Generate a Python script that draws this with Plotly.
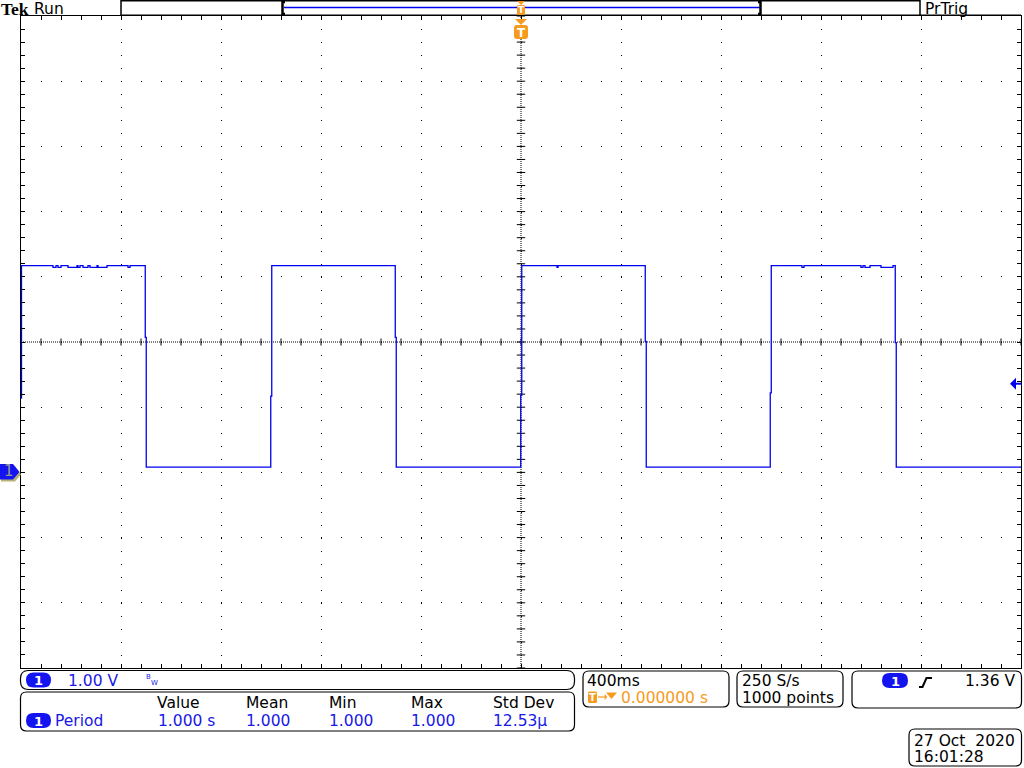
import numpy as np
import plotly.graph_objects as go

t_range = [-2.0, 2.0]            # 400 ms/div x 10 div, trigger at centre
v_range = [-3.0, 7.0]            # 1.00 V/div x 10 div
sample_period = 0.004            # 250 S/s
v_first = 1.13                   # first sample of the record
v_high = 3.17
v_low = 0.08
edge_times = [-1.503, -1.001, -0.503, -0.001, 0.497, 0.997, 1.497]
edge_mid_volts = [2.07, 1.17, 2.07, 1.18, 2.01, 1.22, 1.99]
edge_new_level = ["low", "high", "low", "high", "low", "high", "low"]
glitch_starts = [-1.872, -1.852, -1.812, -1.772, -1.752, -1.724, -1.692, -1.572,
                 0.144, 1.124, 1.360, 1.376, 1.440]
glitch_ends = [-1.860, -1.840, -1.776, -1.764, -1.732, -1.696, -1.656, -1.564,
               0.148, 1.132, 1.368, 1.396, 1.488]
glitch_depth = 0.025
trigger_level = 1.36
trigger_time = 0.0
ground_volts = 0.0

hdr_labels = ["Value", "Mean", "Min", "Max", "Std Dev"]
hdr_values = ["1.000 s", "1.000", "1.000", "1.000", "12.53\u00b5"]

# ---------------- build the trace from the readings ----------------
levels = {"high": v_high, "low": v_low}
events = []
for a, b in zip(glitch_starts, glitch_ends):
    events.append((a, "g", b))
for te, vm, nl in zip(edge_times, edge_mid_volts, edge_new_level):
    events.append((te, "e", (vm, levels[nl])))
events.sort(key=lambda e: e[0])

xs = [t_range[0] + 0.002, t_range[0] + 0.002]
ys = [v_first, v_high]
level = v_high
for t, kind, info in events:
    if kind == "g":
        xs += [t, t, info, info]
        ys += [level, level - glitch_depth, level - glitch_depth, level]
    else:
        vm, nl = info
        xs += [t, t, t + sample_period, t + sample_period]
        ys += [level, vm, vm, nl]
        level = nl
xs.append(t_range[1])
ys.append(level)

# ---------------- geometry helpers (pixel -> paper) ----------------
FW, FH = 1024, 768
L, R, T, B = 21, 1021, 16, 668


def PX(x):
    return (x - L) / (R - L)


def PY(y):
    return (B - y) / (B - T)


def vy_px(v):
    return T + (v_range[1] - v) / (v_range[1] - v_range[0]) * (B - T)


def tx_px(t):
    return L + (t - t_range[0]) / (t_range[1] - t_range[0]) * (R - L)


def f(v):
    return f"{v:.5f}"


def rrect(x0, y0, x1, y1, r):
    return (f"M{f(PX(x0 + r))},{f(PY(y0))} L{f(PX(x1 - r))},{f(PY(y0))} "
            f"Q{f(PX(x1))},{f(PY(y0))} {f(PX(x1))},{f(PY(y0 + r))} "
            f"L{f(PX(x1))},{f(PY(y1 - r))} Q{f(PX(x1))},{f(PY(y1))} {f(PX(x1 - r))},{f(PY(y1))} "
            f"L{f(PX(x0 + r))},{f(PY(y1))} Q{f(PX(x0))},{f(PY(y1))} {f(PX(x0))},{f(PY(y1 - r))} "
            f"L{f(PX(x0))},{f(PY(y0 + r))} Q{f(PX(x0))},{f(PY(y0))} {f(PX(x0 + r))},{f(PY(y0))} Z")


def poly(pts):
    return "M" + " L".join(f"{f(PX(x))},{f(PY(y))}" for x, y in pts) + " Z"


def pline(pts):
    return "M" + " L".join(f"{f(PX(x))},{f(PY(y))}" for x, y in pts)


BLUE = "#0000F0"
TBLUE = "#1818E8"
ORANGE = "#F59B1D"
FONT = "DejaVu Sans"

fig = go.Figure()

# centre-line tick marks (graticule decoration)
cx = np.arange(t_range[0], t_range[1] + 1e-9, 0.08)
fig.add_trace(go.Scatter(x=cx, y=[2.0] * len(cx), mode="markers", hoverinfo="skip",
                         marker=dict(symbol="line-ns", size=5, color="black",
                                     line=dict(width=1, color="black"))))
cy = np.arange(v_range[0], v_range[1] + 1e-9, 0.2)
fig.add_trace(go.Scatter(x=[0.0] * len(cy), y=cy, mode="markers", hoverinfo="skip",
                         marker=dict(symbol="line-ew", size=6, color="black",
                                     line=dict(width=1, color="black"))))

# the waveform
fig.add_trace(go.Scatter(x=xs, y=ys, mode="lines", hoverinfo="skip",
                         line=dict(color=BLUE, width=1.3)))

shapes = []
# dense centre crosshair
shapes.append(dict(type="line", xref="x", yref="y", x0=t_range[0], x1=t_range[1], y0=2.0, y1=2.0,
                   line=dict(color="black", width=1, dash="1px,1px"), layer="below"))
shapes.append(dict(type="line", xref="x", yref="y", x0=0, x1=0, y0=v_range[0], y1=v_range[1],
                   line=dict(color="black", width=1, dash="1px,1px"), layer="below"))

P = dict(type="path", xref="paper", yref="paper")

# ---- top record-view bar ----
shapes.append(dict(P, path=pline([(121, 15.5), (121, 0.8), (920, 0.8), (920, 15.5)]),
                   line=dict(color="black", width=1.5)))
shapes.append(dict(P, path=pline([(121, 15.2), (1021, 15.2)]), line=dict(color="black", width=1.5)))
shapes.append(dict(P, path=pline([(284, 7.5), (760, 7.5)]), line=dict(color=BLUE, width=1.5)))
shapes.append(dict(P, path=pline([(285, 2), (282.5, 2), (282.5, 14), (285, 14)]),
                   line=dict(color="black", width=2.5)))
shapes.append(dict(P, path=pline([(758, 2), (760.5, 2), (760.5, 14), (758, 14)]),
                   line=dict(color="black", width=2.5)))
# small trigger T in record view
tx0 = tx_px(trigger_time)
shapes.append(dict(P, path=poly([(tx0 - 4, 1), (tx0 + 4, 1), (tx0, 5)]), fillcolor=ORANGE,
                   line=dict(width=0)))
shapes.append(dict(P, path=rrect(tx0 - 4, 5, tx0 + 4, 15, 1.5), fillcolor=ORANGE, line=dict(width=0)))
# trigger position marker below top edge
shapes.append(dict(P, path=poly([(tx0 - 6, 19), (tx0 + 6, 19), (tx0, 25)]), fillcolor=ORANGE,
                   line=dict(width=0)))
shapes.append(dict(P, path=rrect(tx0 - 7, 25, tx0 + 7, 39, 3), fillcolor=ORANGE, line=dict(width=0)))

# ---- channel 1 ground marker ----
gy = vy_px(ground_volts)
shapes.append(dict(P, path=poly([(1, gy - 6), (15, gy - 6), (21, gy + 2), (15, gy + 9), (1, gy + 9)]),
                   fillcolor="#B8B27A", line=dict(width=0)))
shapes.append(dict(P, path=poly([(0, gy - 8.5), (13, gy - 8.5), (19.5, gy - 0.5), (13, gy + 7), (0, gy + 7)]),
                   fillcolor="#1414F0", line=dict(width=0)))

# ---- trigger level arrow on the right ----
ty = vy_px(trigger_level)
shapes.append(dict(P, path=poly([(1010, ty), (1016, ty - 6), (1016, ty + 6)]), fillcolor=BLUE,
                   line=dict(width=0)))
shapes.append(dict(P, path=pline([(1015, ty), (1021, ty)]), line=dict(color=BLUE, width=2)))

# ---- bottom readout panels ----
for (x0, y0, x1, y1, r) in [(20.5, 670.5, 574.5, 689.5, 8), (20.5, 692, 574.5, 731, 6),
                            (583, 671, 729, 707, 6), (737, 671, 843, 707, 6),
                            (852, 671, 1021.5, 708, 6), (909, 729, 1021.5, 766, 6)]:
    shapes.append(dict(P, path=rrect(x0, y0, x1, y1, r), line=dict(color="black", width=1.2)))
# blue "1" pills
for (x0, y0, x1, y1) in [(26, 672.5, 51, 687.5), (26, 713, 51, 728), (882, 673, 908, 688)]:
    shapes.append(dict(P, path=rrect(x0, y0, x1, y1, 7.5), fillcolor="#1414F0", line=dict(width=0)))
# orange T box + triangle in timebase panel
shapes.append(dict(P, path=rrect(588, 691.5, 597, 703, 1.5), fillcolor=ORANGE, line=dict(width=0)))
shapes.append(dict(P, path=poly([(606, 692.5), (617, 692.5), (611.5, 699)]), fillcolor=ORANGE,
                   line=dict(width=0)))
shapes.append(dict(P, path=pline([(598, 697), (605, 697)]), line=dict(color=ORANGE, width=1.2)))
shapes.append(dict(P, path=poly([(605, 694.5), (605, 699.5), (607, 697)]), fillcolor=ORANGE,
                   line=dict(color=ORANGE, width=0.5)))
# rising slope icon
shapes.append(dict(P, path=pline([(919, 687), (922.5, 687), (926.5, 678), (932, 678)]),
                   line=dict(color="black", width=2)))

annotations = []


def txt(x, y, s, color="black", size=15.5, family=FONT, anchor="left"):
    annotations.append(dict(xref="paper", yref="paper", x=PX(x), y=PY(y), text=s, showarrow=False,
                            xanchor=anchor, yanchor="middle", borderpad=0, borderwidth=0,
                            font=dict(family=family, size=size, color=color)))


txt(1, 9, "<b>Tek</b>", size=17.5, family="Liberation Serif")
txt(34, 9, "Run")
txt(925, 9, "PrTrig")
txt(tx0, 10.5, "<b>T</b>", color="white", size=9, anchor="center")
txt(tx0, 32.5, "<b>T</b>", color="white", size=12, anchor="center")
txt(8.5, gy - 1, "1", color="#9A9A88", size=15, anchor="center")

txt(38.5, 680.5, "<b>1</b>", color="white", size=13, anchor="center")
txt(68, 681, "1.00 V", color=TBLUE)
txt(146, 676.5, "B", color=TBLUE, size=7)
txt(150.5, 682.5, "W", color=TBLUE, size=7)

hdr_x = [157, 246, 329, 411, 493]
for x, s in zip(hdr_x, hdr_labels):
    txt(x, 703, s)
for x, s in zip([158, 246, 329, 411, 493], hdr_values):
    txt(x, 721, s, color=TBLUE)
txt(38.5, 721, "<b>1</b>", color="white", size=13, anchor="center")
txt(55, 721, "Period", color=TBLUE)

txt(587, 681, "400ms")
txt(592.5, 697.5, "<b>T</b>", color="white", size=10, anchor="center")
txt(621, 697.5, "0.000000 s", color=ORANGE)
txt(742, 681, "250 S/s")
txt(742, 697.5, "1000 points")
txt(895, 681, "<b>1</b>", color="white", size=13, anchor="center")
txt(965, 681, "1.36 V")
txt(914, 741, "27 Oct\u00a0\u00a02020")
txt(914, 757, "16:01:28")

fig.update_layout(
    width=FW, height=FH,
    margin=dict(l=L, r=FW - R, t=T, b=FH - B, pad=0),
    paper_bgcolor="white", plot_bgcolor="white",
    showlegend=False, dragmode=False,
    shapes=shapes, annotations=annotations,
    xaxis=dict(range=t_range, showgrid=True, gridcolor="black", gridwidth=1,
               griddash="1px,12.04px", dtick=0.4, tick0=0, zeroline=False,
               showline=True, linecolor="black", linewidth=1, mirror="ticks",
               ticks="inside", ticklen=4, tickcolor="black", tickwidth=1,
               showticklabels=False, fixedrange=True,
               minor=dict(dtick=0.08, ticks="inside", ticklen=4, tickcolor="black",
                          tickwidth=1, showgrid=False)),
    yaxis=dict(range=v_range, showgrid=True, gridcolor="black", gridwidth=1,
               griddash="1px,19px", dtick=1, tick0=0, zeroline=False,
               showline=True, linecolor="black", linewidth=1, mirror="ticks",
               ticks="inside", ticklen=4, tickcolor="black", tickwidth=1,
               showticklabels=False, fixedrange=True,
               minor=dict(dtick=0.2, ticks="inside", ticklen=4, tickcolor="black",
                          tickwidth=1, showgrid=False)),
)

fig.write_html("out.html", config=dict(displayModeBar=False, staticPlot=True))
